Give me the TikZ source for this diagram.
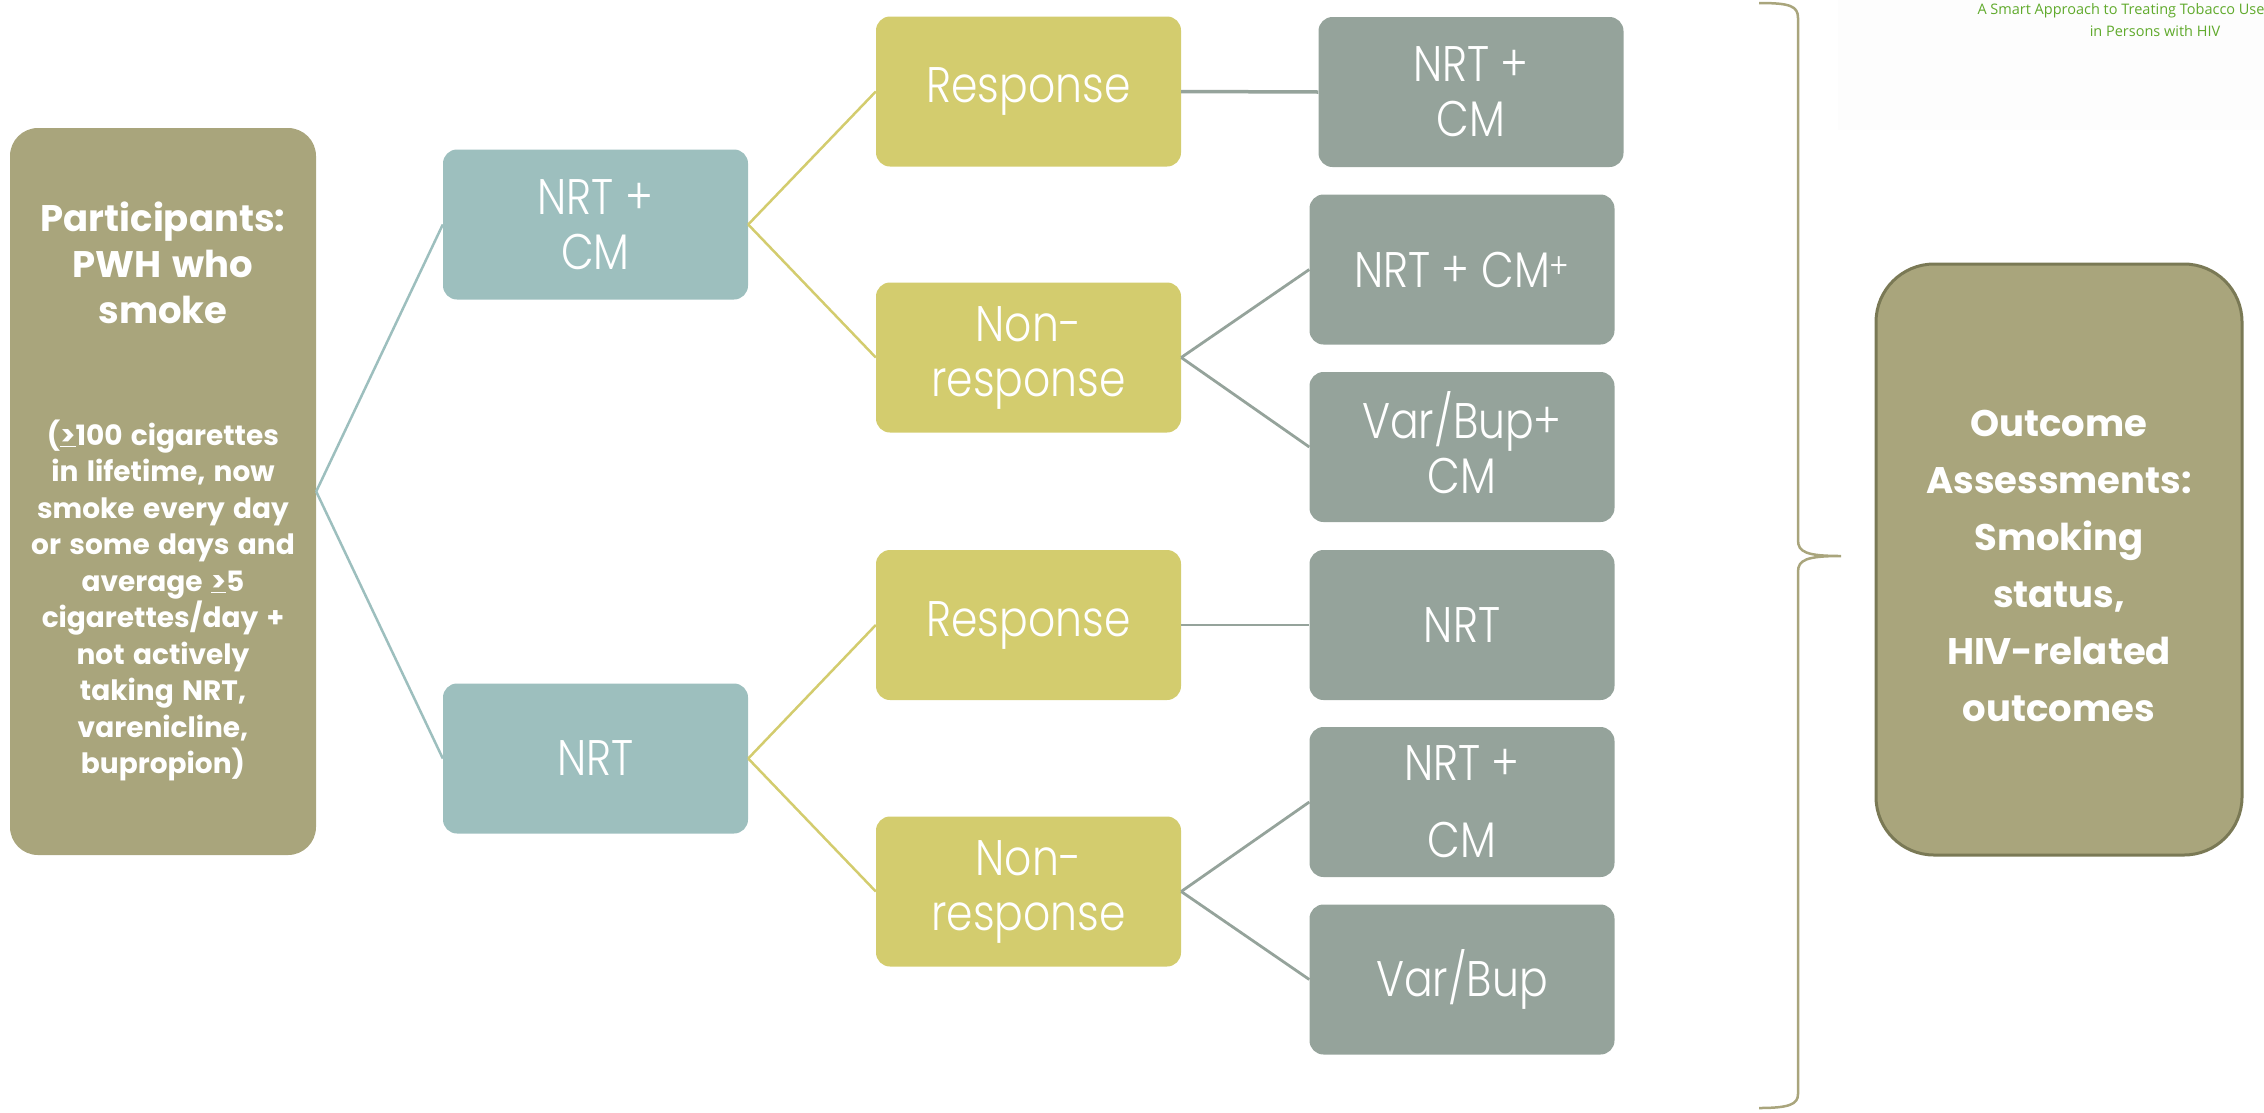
\documentclass[tikz,border=0pt]{standalone}
\usepackage{fontspec}
\newfontfamily\gothic{Poppins}
\newfontfamily\twcen{Poppins Light}[FakeStretch=0.85]
\newfontfamily\myriad{Open Sans}
\definecolor{olive}{HTML}{A9A57C}
\definecolor{olivedark}{HTML}{7A7955}
\definecolor{tealbox}{HTML}{9DBFBE}
\definecolor{yellowbox}{HTML}{D3CC6E}
\definecolor{greybox}{HTML}{95A39B}
\definecolor{titlegreen}{RGB}{96,170,44}
\definecolor{faint}{RGB}{253,253,253}
\newcommand{\boldtext}[2]{\gothic\bfseries\fontsize{#1}{#2}\selectfont
  \spaceskip=0.3em\relax\xspaceskip=0.3em\relax}
\tikzset{
  box/.style={rounded corners=14pt, minimum width=305pt, minimum height=150pt,
    inner sep=0pt, align=center, text=white,
    font=\twcen\fontsize{50}{55}\selectfont},
  tealnode/.style={box, fill=tealbox},
  yellownode/.style={box, fill=yellowbox},
  greynode/.style={box, fill=greybox},
  tealline/.style={draw=tealbox, line width=2.5pt},
  yellowline/.style={draw=yellowbox, line width=2.5pt},
  greyline/.style={draw=greybox, line width=2.8pt},
  titletext/.style={text=titlegreen, inner sep=0pt, font=\myriad\fontsize{14.5}{17}\selectfont}
}
\begin{document}
\begin{tikzpicture}[x=1pt,y=-1pt]
\useasboundingbox (0,0) rectangle (2264,1112);

% header panel
\fill[faint] (1838,0) rectangle (2264,130);
\node[titletext] (hdr1) at (2121,11) {A Smart Approach to Treating Tobacco Use};
\node[titletext] (hdr2) at (2155,31) {in Persons with HIV};

% participants
\node[fill=olive, rounded corners=28pt, minimum width=306pt, minimum height=727pt,
      text width=302pt, inner sep=0pt, align=center, text=white] (part) at (163,491.5)
  {{\boldtext{37}{46}Participants:\\PWH who\\smoke\par}
   \vspace{85pt}
   {\boldtext{28}{36.5}(\underline{>}100 cigarettes\\
    in lifetime, now\\ smoke every day\\ or some days and\\ average \underline{>}5\\
    cigarettes/day +\\ not actively\\ taking NRT,\\ varenicline,\\ bupropion)\par}};

% first-line treatments
\node[tealnode] (t1) at (595.5,224.5) {NRT +\\CM};
\node[tealnode] (t2) at (595.5,758.5) {NRT};

% response status
\node[yellownode] (y1) at (1028.5,91.5) {Response};
\node[yellownode] (y2) at (1028.5,357.5) {Non-\\response};
\node[yellownode] (y3) at (1028.5,625) {Response};
\node[yellownode] (y4) at (1028.5,891.5) {Non-\\response};

% second-stage treatments
\node[greynode] (g1) at (1471,92) {NRT +\\CM};
\node[greynode] (g2) at (1462,269.5) {NRT + CM\textsuperscript{+}};
\node[greynode, text depth=10pt] (g3) at (1462,447) {Var/Bup+\\CM};
\node[greynode] (g4) at (1462,625) {NRT};
\node[greynode] (g5) at (1462,802) {NRT +\\[22pt]CM};
\node[greynode] (g6) at (1462,979.5) {Var/Bup};

% outcomes
\node[fill=olive, draw=olivedark, line width=3pt, rounded corners=58pt,
      minimum width=366pt, minimum height=591pt, text width=350pt, inner sep=0pt,
      align=center, text=white] (out) at (2059,559.5)
  {\boldtext{37}{57}\rule{0pt}{40pt}Outcome\\Assessments:\\Smoking\\status,\\HIV-related\\outcomes\par};

% connectors
\draw[tealline] (part.east) -- (t1.west);
\draw[tealline] (part.east) -- (t2.west);
\draw[yellowline] (t1.east) -- (y1.west);
\draw[yellowline] (t1.east) -- (y2.west);
\draw[yellowline] (t2.east) -- (y3.west);
\draw[yellowline] (t2.east) -- (y4.west);
\draw[greyline, line width=3.5pt] (y1.east) -- (g1.west);
\draw[greyline] (y2.east) -- (g2.west);
\draw[greyline] (y2.east) -- (g3.west);
\draw[greyline] (y3.east) -- (g4.west);
\draw[greyline] (y4.east) -- (g5.west);
\draw[greyline] (y4.east) -- (g6.west);

% brace gathering all arms
\draw[olive, line width=2.5pt]
  (1759,3) .. controls (1790,3) and (1798,6) .. (1798,18) -- (1798,540)
  .. controls (1798,552) and (1806,556) .. (1841,556)
  .. controls (1806,556) and (1798,560) .. (1798,572) -- (1798,1094)
  .. controls (1798,1104) and (1790,1108) .. (1759,1108);
\end{tikzpicture}
\end{document}
